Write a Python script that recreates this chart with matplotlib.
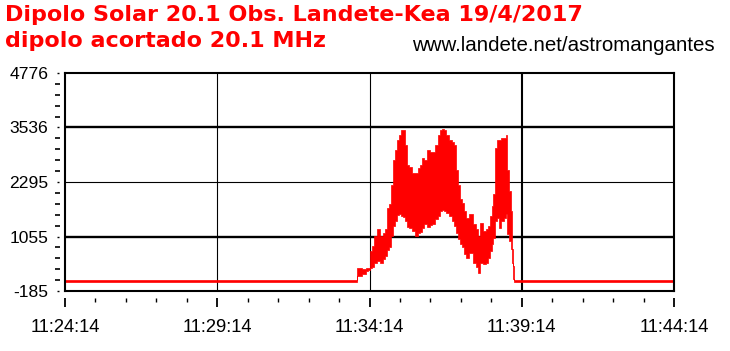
import numpy as np
import matplotlib
matplotlib.use("Agg")
import matplotlib.pyplot as plt
import matplotlib.transforms as mtransforms

# ---- data (seconds after 11:24:14) ----
time_s = [0, 575, 577, 581, 589, 597, 599, 603, 607, 611, 617, 623, 629, 633, 636,
          640, 644, 648, 652, 656, 660, 664, 668, 672, 676, 680, 686, 692, 698, 701,
          705, 711, 717, 721, 727, 733, 737, 741, 745, 749, 753, 759, 765, 768, 772,
          776, 780, 784, 788, 794, 800, 806, 812, 816, 820, 826, 832, 835, 839, 843,
          845, 849, 853, 857, 863, 867, 869, 873, 877, 879, 881, 883, 885, 1200]
signal_high = [55, 55, 341, 341, 318, 341, 341, 730, 844, 1072, 1232, 1072, 1141, 1232, 1713,
               1804, 2216, 2787, 3016, 3244, 3359, 3473, 3473, 3130, 2673, 2627, 2490, 2490, 2604, 2673,
               2833, 2787, 3016, 2970, 2970, 3130, 3359, 3473, 3496, 3473, 3359, 3244, 3199, 3130, 2558,
               2216, 1918, 1827, 1644, 1484, 1575, 1347, 1232, 1072, 1370, 1187, 1232, 1301, 1530, 1758,
               2033, 3061, 3244, 3244, 3290, 3290, 3359, 2558, 2101, 1644, 775, 387, 55, 55]
signal_low = [15, 15, 158, 158, 204, 272, 295, 341, 364, 455, 501, 455, 547, 615, 752,
              821, 1072, 1301, 1415, 1552, 1575, 1530, 1507, 1415, 1278, 1255, 1187, 1072, 1141, 1164,
              1255, 1347, 1278, 1324, 1347, 1461, 1530, 1644, 1667, 1644, 1598, 1530, 1415, 1301, 1141,
              1004, 890, 821, 661, 569, 684, 455, 364, 227, 455, 432, 455, 569, 730, 890,
              1027, 1415, 1484, 1255, 1415, 1484, 1575, 1118, 958, 775, 455, 89, 15, 15]

ytick_vals = [-185, 1055, 2295, 3536, 4776]
ytick_labels = ["-185", "1055", "2295", "3536", "4776"]
xtick_vals = [0, 300, 600, 900, 1200]
xtick_labels = ["11:24:14", "11:29:14", "11:34:14", "11:39:14", "11:44:14"]

title1 = "Dipolo Solar 20.1 Obs. Landete-Kea 19/4/2017"
title2 = "dipolo acortado 20.1 MHz"
url_text = "www.landete.net/astromangantes"

W, H = 730, 351
fig = plt.figure(figsize=(W / 100, H / 100), dpi=100)
fig.patch.set_facecolor("white")
ax = fig.add_axes([65 / W, (H - 291) / H, 609 / W, 218 / H])
ax.set_xlim(0, 1200)
ax.set_ylim(-185, 4776)

# grid lines
hgrid_w = {1055: 1.7, 2295: 0.8, 3536: 1.7}
for v, lw in hgrid_w.items():
    ax.axhline(v, color="black", lw=lw, zorder=1)
vgrid_w = {300: 0.8, 600: 0.8, 900: 1.5}
for v, lw in vgrid_w.items():
    ax.axvline(v, color="black", lw=lw, zorder=1)

ax.fill_between(time_s, signal_low, signal_high, step="mid", color="#ff0000",
                lw=0.5, edgecolor="#ff0000", zorder=2)

for s in ax.spines.values():
    s.set_linewidth(1.5)
    s.set_color("black")

# real tick labels, tick marks drawn manually below
ax.set_yticks(ytick_vals)
ax.set_yticklabels(ytick_labels)
ax.set_xticks(xtick_vals)
ax.set_xticklabels(xtick_labels)
ax.tick_params(axis="y", length=0, pad=12, labelsize=12.6)
ax.tick_params(axis="x", length=0, pad=20.5, labelsize=13.2)
for lab in ax.get_xticklabels() + ax.get_yticklabels():
    lab.set_fontfamily(["Liberation Sans", "DejaVu Sans"])

# y tick marks (offset from spine)
ty = mtransforms.blended_transform_factory(ax.transAxes, ax.transData)
x0 = -10 / 609
x1 = -5 / 609
xm = -7 / 609
for i in range(len(ytick_vals) - 1):
    a, b = ytick_vals[i], ytick_vals[i + 1]
    for k in range(1, 5):
        v = a + (b - a) * k / 5
        ax.plot([x0, x1], [v, v], color="black", lw=1.2, transform=ty, clip_on=False,
                solid_capstyle="butt")
for v in ytick_vals:
    ax.plot([xm - 1 / 609, xm + 1 / 609], [v, v], color="black", lw=1.0, transform=ty,
            clip_on=False, solid_capstyle="butt")

# x tick marks (offset from spine)
tx = mtransforms.blended_transform_factory(ax.transData, ax.transAxes)
ya = -7 / 218
yb_min = -11 / 218
yb_maj = -16 / 218
for m in range(0, 21):
    t = m * 60
    yb = yb_maj if m % 5 == 0 else yb_min
    ax.plot([t, t], [ya, yb], color="black", lw=1.3 if m % 5 == 0 else 1.0, transform=tx,
            clip_on=False, solid_capstyle="butt")

# titles
fig.text(5 / W, (H - 20.7) / H, title1, color="#ff0000", fontsize=16,
         family="DejaVu Sans", fontweight="bold", va="baseline", ha="left")
fig.text(5 / W, (H - 46.7) / H, title2, color="#ff0000", fontsize=16,
         family="DejaVu Sans", fontweight="bold", va="baseline", ha="left")
fig.text(412 / W, (H - 50.7) / H, url_text, color="black", fontsize=14.8,
         family=["Liberation Sans", "DejaVu Sans"], va="baseline", ha="left")

fig.savefig("out.png", dpi=100)
